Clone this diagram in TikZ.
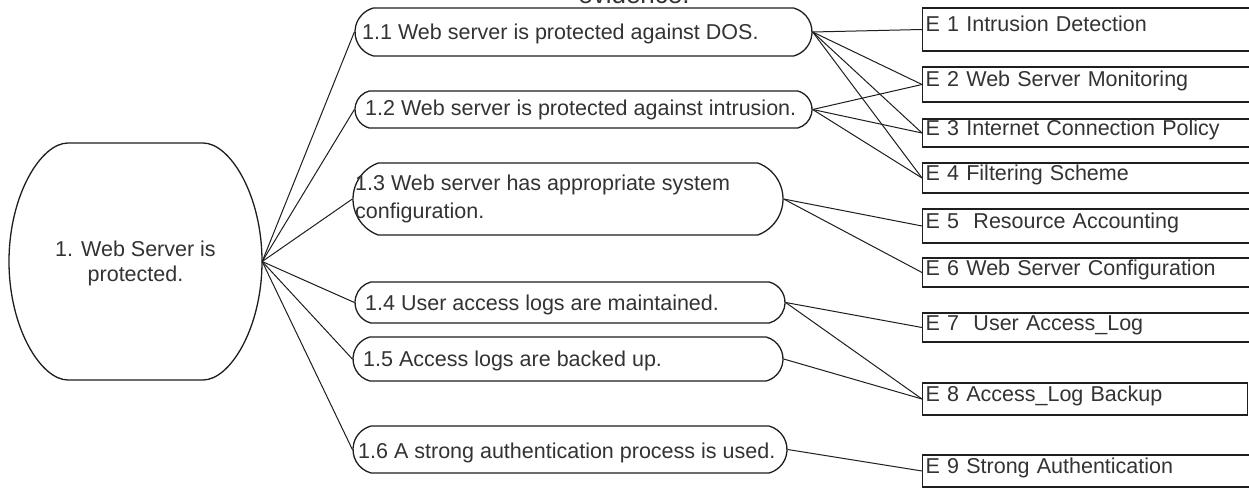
\documentclass[tikz,border=0pt]{standalone}
\usepackage{fontspec}
\setmainfont{Liberation Sans}
\usetikzlibrary{shapes.misc}
\definecolor{txt}{HTML}{333333}
\definecolor{ln}{HTML}{1E1E1E}
\begin{document}
\begin{tikzpicture}[x=1pt,y=-1pt,
  every node/.style={font=\fontsize{21.5}{25}\selectfont, text=txt},
  goal/.style={draw=ln, line width=1.3pt, rounded rectangle, inner sep=0pt, rounded rectangle arc length=150},
  lbl/.style={anchor=base west, inner sep=0pt},
  ebox/.style={draw=ln, line width=1.4pt, rectangle, anchor=west, inner xsep=3pt, inner ysep=0pt, align=left, text height=0.75em, text depth=0.25em},
  link/.style={draw=ln, line width=1pt},
  outline/.style={draw=ln, line width=1.3pt}
]
\useasboundingbox (0,0) rectangle (1249,489);
\fill[white] (0,0) rectangle (1249,489);

% partly cut title
\node[anchor=base, inner sep=0pt, font=\fontsize{26}{30}\selectfont] (title) at (634,4) {evidence.};

% root
\node[rectangle, inner sep=0pt, minimum width=253pt, minimum height=237pt] (root) at (135.5,261.5) {};
\draw[outline] (68,143) -- (203,143)
  .. controls (230,143) and (262,195) .. (262,261.5)
  .. controls (262,328) and (230,380) .. (203,380)
  -- (68,380)
  .. controls (41,380) and (9,328) .. (9,261.5)
  .. controls (9,195) and (41,143) .. (68,143) -- cycle;
\node[align=center, inner sep=0pt] (roottext) at (135.5,263) {1. Web Server is\\protected.};

% sub-goals
\node[goal, minimum width=457pt, minimum height=48pt] (g1) at (583.5,32) {};
\node[goal, minimum width=457pt, minimum height=37pt] (g2) at (583.5,109.5) {};
\node[goal, rounded rectangle arc length=140, minimum width=430pt, minimum height=72pt] (g3) at (568,199) {};
\node[goal, minimum width=430pt, minimum height=41pt] (g4) at (570,302.5) {};
\node[goal, minimum width=430pt, minimum height=44pt] (g5) at (568,359) {};
\node[goal, minimum width=434pt, minimum height=47pt] (g6) at (570,449.5) {};

\node[lbl] (t1) at (362,40) {1.1 Web server is protected against DOS.};
\node[lbl] (t2) at (365,116) {1.2 Web server is protected against intrusion.};
\node[lbl] (t3a) at (355,190) {1.3 Web server has appropriate system};
\node[lbl] (t3b) at (355,218) {configuration.};
\node[lbl] (t4) at (365,310) {1.4 User access logs are maintained.};
\node[lbl] (t5) at (363,366) {1.5 Access logs are backed up.};
\node[lbl] (t6) at (358,458) {1.6 A strong authentication process is used.};

% evidence boxes
\node[ebox, text width=330pt, minimum height=43pt] (e1) at (922,29.5) {E 1 Intrusion Detection};
\node[ebox, text width=330pt, minimum height=35pt] (e2) at (922,84.5) {E 2 Web Server Monitoring};
\node[ebox, text width=330pt, minimum height=28pt] (e3) at (922,133) {E 3 Internet Connection Policy};
\node[ebox, text width=330pt, minimum height=30pt] (e4) at (922,178) {E 4 Filtering Scheme};
\node[ebox, text width=330pt, minimum height=34pt] (e5) at (922,226) {E 5\ \ Resource Accounting};
\node[ebox, text width=330pt, minimum height=29pt] (e6) at (922,272.5) {E 6 Web Server Configuration};
\node[ebox, text width=330pt, minimum height=29pt] (e7) at (922,327.5) {E 7\ \ User Access\_Log};
\node[ebox, text width=319pt, minimum height=32pt] (e8) at (922,399) {E 8 Access\_Log Backup};
\node[ebox, text width=330pt, minimum height=32pt] (e9) at (922,471) {E 9 Strong Authentication};

% connectors root -> goals
\foreach \g in {g1,g2,g3,g4,g5,g6} \draw[link] (root.east) -- (\g.west);

% goals -> evidence
\draw[link] (g1.east) -- (e1.west);
\draw[link] (g1.east) -- (e2.west);
\draw[link] (g1.east) -- (e3.west);
\draw[link] (g1.east) -- (e4.west);
\draw[link] (g2.east) -- (e2.west);
\draw[link] (g2.east) -- (e3.west);
\draw[link] (g2.east) -- (e4.west);
\draw[link] (g3.east) -- (e5.west);
\draw[link] (g3.east) -- (e6.west);
\draw[link] (g4.east) -- (e7.west);
\draw[link] (g4.east) -- (e8.west);
\draw[link] (g5.east) -- (e8.west);
\draw[link] (g6.east) -- (e9.west);
\end{tikzpicture}
\end{document}
